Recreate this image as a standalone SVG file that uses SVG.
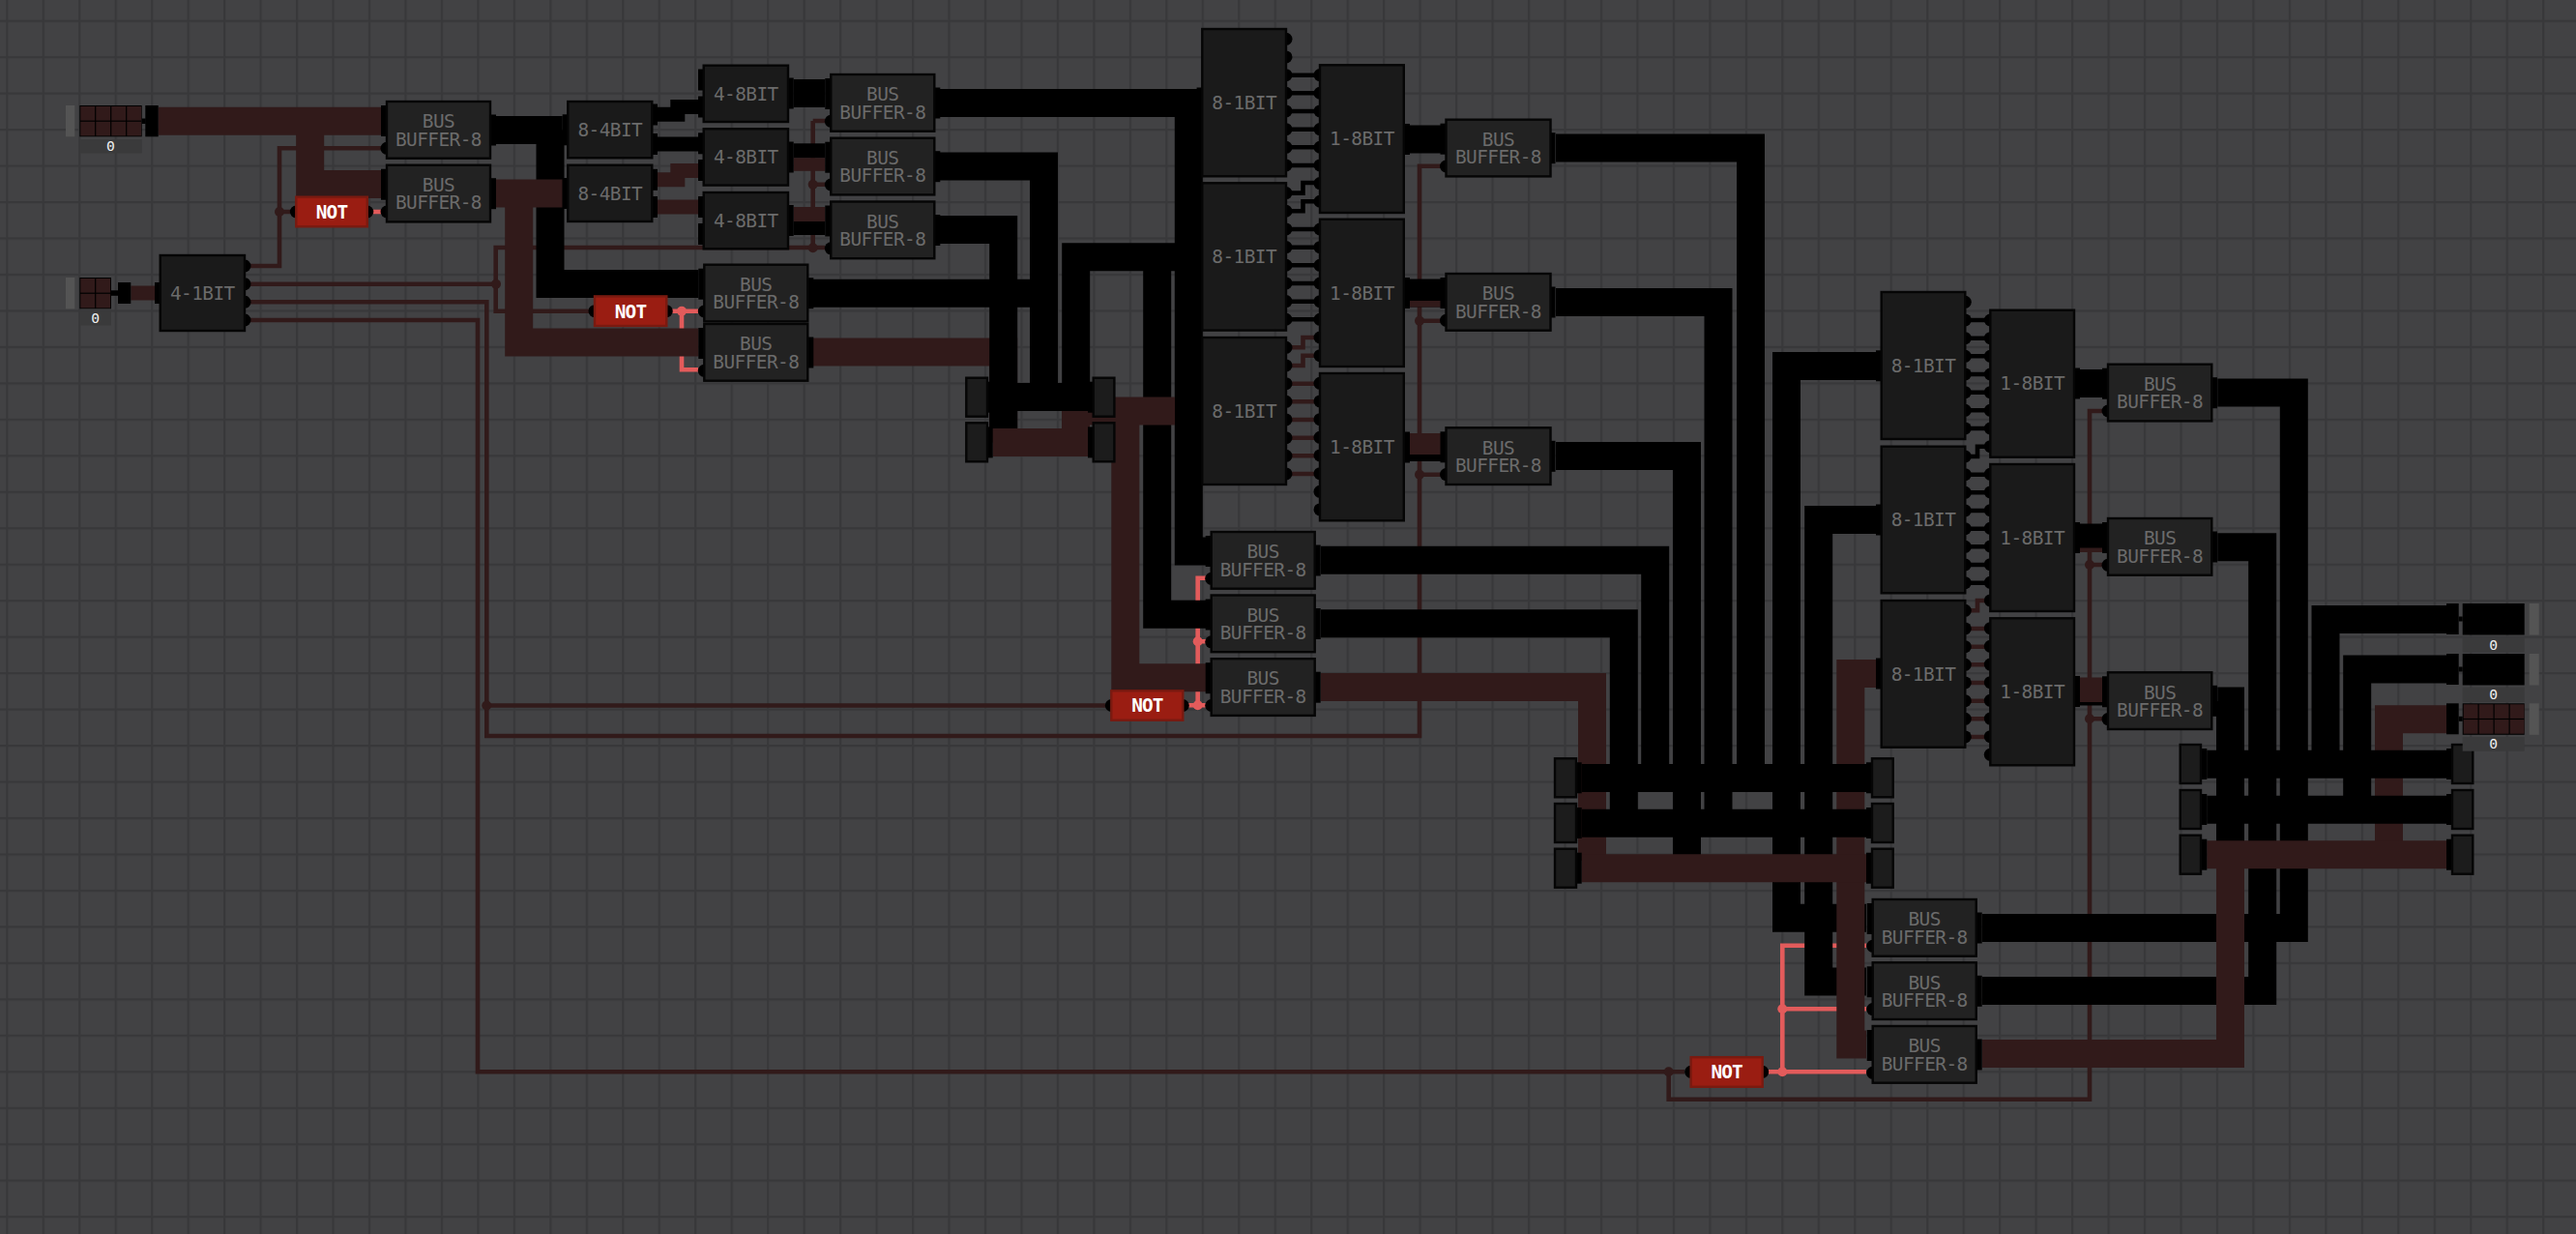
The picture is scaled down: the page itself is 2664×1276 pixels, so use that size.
<svg xmlns="http://www.w3.org/2000/svg" width="2664" height="1276" viewBox="0 0 2664 1276">
<style>
.bk,.rd,.th,.hi,.bk4,.rd4{fill:none;stroke-linejoin:miter;stroke-linecap:butt}
.bk{stroke:#000;stroke-width:29}
.rd{stroke:#311a1a;stroke-width:29}
.bk4{stroke:#000;stroke-width:15}
.rd4{stroke:#311a1a;stroke-width:15}
.th{stroke:#311a1a;stroke-width:4.6}
.hi{stroke:#e25b5b;stroke-width:4.6}
.tb{stroke:#000;stroke-width:4.6;fill:none}
.j{fill:#311a1a}
.jh{fill:#e25b5b}
.p{fill:#000}
.chip{fill:#1a1a1a;stroke:#050505;stroke-width:2.4}
.buf{fill:#222;stroke:#050505;stroke-width:2.4}
.rel{fill:#1c1c1c;stroke:#050505;stroke-width:2.4}
.not{fill:#9a1d12;stroke:#7a1a10;stroke-width:2.4}
.lbl{font-family:"DejaVu Sans Mono","Liberation Mono",monospace;font-size:19.4px;letter-spacing:-.55px;fill:#6b6b6b;text-anchor:middle}
.nt{font-family:"DejaVu Sans Mono","Liberation Mono",monospace;font-size:19.4px;letter-spacing:-.9px;font-weight:bold;fill:#fff;text-anchor:middle}
.val{font-family:"DejaVu Sans Mono","Liberation Mono",monospace;font-size:14.6px;fill:#eee;text-anchor:middle}
.bar{fill:#545454}
.vb{fill:#3a3a3b}
.cell{fill:#311a1a}
</style>
<defs>
<pattern id="grid" patternUnits="userSpaceOnUse" x="6.2" y="20.6" width="37.47" height="37.47">
<rect width="37.47" height="37.47" fill="#424244"/>
<rect x="0" y="0" width="2.3" height="37.47" fill="#38383a"/>
<rect x="0" y="0" width="37.47" height="2.3" fill="#38383a"/>
</pattern>
<g id="bbp">
<rect class="p" x="-6" y="4" width="6" height="32"/>
<circle class="p" cx="0" cy="48.3" r="6.5"/>
<rect class="p" x="107" y="13.5" width="6" height="32"/>
</g>
<g id="p8">
<circle class="p" cx="0" cy="0" r="6.5"/>
<circle class="p" cx="0" cy="18.67" r="6.5"/>
<circle class="p" cx="0" cy="37.33" r="6.5"/>
<circle class="p" cx="0" cy="56" r="6.5"/>
<circle class="p" cx="0" cy="74.67" r="6.5"/>
<circle class="p" cx="0" cy="93.33" r="6.5"/>
<circle class="p" cx="0" cy="112" r="6.5"/>
<circle class="p" cx="0" cy="130.67" r="6.5"/>
</g>
<g id="c4">
<rect class="cell" x="1" y="1" width="14.8" height="14.6"/>
<rect class="cell" x="17" y="1" width="14.8" height="14.6"/>
<rect class="cell" x="1" y="16.8" width="14.8" height="14.6"/>
<rect class="cell" x="17" y="16.8" width="14.8" height="14.6"/>
</g>
</defs>
<rect id="background" width="2664" height="1276" fill="url(#grid)"/>
<g id="connectors">
<g id="control-wires">
<path class="th" d="M253 275H289V153.3H395M289 219H300"/>
<path class="th" d="M253 293.7H513M609 321.7H512.7V256H853M840.7 125H853M840.7 125V256.3M840.7 190.7H853"/>
<path class="th" d="M253 312.3H503.3V761H1468V171.7H1490M503.3 729.5H1143M1468 331.7H1490M1468 490.7H1490"/>
<path class="th" d="M253 331H494V1108.3H1742M1725.7 1108.3V1136.7H2161V425H2174M2161 584H2174M2161 743.3H2174"/>
<circle class="j" cx="289" cy="219" r="5"/><circle class="j" cx="513" cy="293.7" r="5"/><circle class="j" cx="840.7" cy="190.7" r="5"/><circle class="j" cx="840.7" cy="256.3" r="5"/><circle class="j" cx="503.3" cy="729.5" r="5"/><circle class="j" cx="1468" cy="331.7" r="5"/><circle class="j" cx="1468" cy="490.7" r="5"/><circle class="j" cx="1725.7" cy="1108.3" r="5"/><circle class="j" cx="2161" cy="584" r="5"/><circle class="j" cx="2161" cy="743.3" r="5"/>
<path class="hi" d="M385 219H395M695 321.7H722M705 321.7V382.3H722M1229 729.3H1247M1238.7 729.3V597.7H1247M1238.7 663.3H1247M1829 1108.3H1930M1843.3 1108.3V977.7H1930M1843.3 1043.3H1930"/>
<circle class="jh" cx="705" cy="321.7" r="5"/><circle class="jh" cx="1238.7" cy="663.3" r="5"/><circle class="jh" cx="1238.7" cy="729.3" r="5"/><circle class="jh" cx="1843.3" cy="1043.3" r="5"/><circle class="jh" cx="1843.3" cy="1108.3" r="5"/>
</g>
<g id="chip-links">
<path class="tb" d="M1330 77.7H1365M1330 96.3H1365M1330 115H1365M1330 133.7H1365M1330 152.3H1365M1330 171H1365M1330 199.6H1347.5V189H1365M1330 218.3H1347.5V208.3H1365M1330 237H1365M1330 255.7H1365M1330 274.3H1365M1330 293H1365M1330 311.7H1365M1330 330.3H1365"/>
<path class="th" d="M1330 359.3H1347.5V349H1365M1330 378H1347.5V367.7H1365M1330 396.7H1365M1330 415.3H1365M1330 434H1365M1330 452.7H1365M1330 471.3H1365M1330 490H1365"/>
<path class="tb" d="M2032.3 331H2058.3M2032.3 349.7H2058.3M2032.3 368.3H2058.3M2032.3 387H2058.3M2032.3 405.7H2058.3M2032.3 424.3H2058.3M2032.3 443H2058.3M2032.3 472H2045V461.7H2058.3M2032.3 490.7H2058.3M2032.3 509.3H2058.3M2032.3 528H2058.3M2032.3 546.7H2058.3M2032.3 565.3H2058.3M2032.3 584H2058.3M2032.3 602.7H2058.3"/>
<path class="th" d="M2032.3 631.3H2045V621H2058.3M2032.3 650H2058.3M2032.3 668.7H2058.3M2032.3 687.3H2058.3M2032.3 706H2058.3M2032.3 724.7H2058.3M2032.3 743.3H2058.3M2032.3 762H2058.3"/>
</g>
<g id="bus-under">
<path class="rd" d="M841 364H1037.7V457.5"/>
</g>
<g id="bus-black">
<path class="bk" d="M513 134.5H581.7M569 134.5V293.5H722.3"/>
<path class="bk4" d="M680 118.3H700.8V110.5H722M680 149H722"/>
<path class="bk" d="M820.7 96.5H853.3"/>
<path class="bk" d="M972 106.5H1243M1229.3 106.5V570H1247"/>
<path class="bk" d="M972 172H1079.5V396M841 303.3H1065"/>
<path class="bk" d="M972 237.6H1037.7V443"/>
<path class="bk" d="M1243 265.8H1112.7V396M1196.7 265.8V635.3H1247"/>
<path class="bk" d="M1366 579.3H1711.7V800M1366 644.8H1679.3V850"/>
<path class="bk" d="M1609 153H1810.5V800M1609 312.4H1777V850M1609 471.5H1744.5V890"/>
<path class="bk" d="M1940 378.5H1847.5V949.3H1930M1940 537.5H1880.7V1015H1930"/>
<path class="bk" d="M2293.3 406H2372.3V959.5H2050M2293.3 565.7H2339.7V1024.5H2050M2293.3 725H2306.5V884"/>
<path class="bk" d="M2530 640.5H2405V790M2530 692H2437.7V837"/>
<path class="bk" d="M1458 144H1490M1458 303H1490M2151 396.5H2174M2151 556H2174"/>
</g>
<g id="bus-red">
<path class="rd" d="M163.7 125.3H395M320.7 125.3V190.5H395"/>
<path class="rd4" d="M135.3 303H160"/>
<path class="rd" d="M513 200H581.7M536.7 200V354H722.3"/>
<path class="rd4" d="M680 185.8H700.8V176.5H722M680 214H722"/>
<path class="rd" d="M1112.5 457.5V425H1215M1163.8 425V700.8H1247"/>
<path class="rd" d="M1366 710.5H1646.5V890"/>
<path class="rd" d="M1940 696.5H1913.8V1080H1930"/>
<path class="rd" d="M2530 743.7H2470.5V884"/>
</g>
<g id="bus-cross">
<path class="bk" d="M1026.7 410.5H1125M1635.7 804.5H1930M1635.7 851.2H1930M2282.3 790.3H2530M2282.3 837.2H2530"/>
<path class="rd" d="M1026.7 457.5H1125M1635.7 897.8H1930M2282.3 883.8H2530M2050 1089.5H2306.5V884"/>
</g>
<g id="bus-strips">
<rect class="p" x="820.7" y="148.3" width="32.6" height="15.2"/><rect class="cell" x="820.7" y="163.3" width="32.6" height="13.5"/>
<rect class="cell" x="820.7" y="214" width="32.6" height="15"/><rect class="p" x="820.7" y="229" width="32.6" height="14"/>
<rect class="cell" x="1458" y="311" width="32" height="6.5"/>
<rect class="cell" x="1458" y="448" width="32" height="22"/><rect class="p" x="1458" y="470" width="32" height="7"/>
<rect class="cell" x="2151" y="566.5" width="23" height="4.5"/>
<rect class="cell" x="2151" y="700.5" width="23" height="25.5"/><rect class="p" x="2151" y="726" width="23" height="3.5"/>
</g>
</g>
<g id="input-a">
<rect class="bar" x="68" y="109" width="9.3" height="32.3"/>
<rect class="p" x="82.3" y="109" width="64.4" height="32.3"/>
<use href="#c4" x="82.3" y="109"/><use href="#c4" x="114.3" y="109"/>
<rect class="p" x="146.7" y="122.5" width="4" height="5.5"/>
<rect class="p" x="150.3" y="109" width="13.4" height="32.3"/>
<rect class="vb" x="82.3" y="144" width="64.4" height="14.5"/>
<text class="val" x="114.5" y="156.2">0</text>
</g>
<g id="input-b">
<rect class="bar" x="68" y="287" width="9.3" height="32.3"/>
<rect class="p" x="82.3" y="287" width="32.7" height="32.3"/>
<use href="#c4" x="82.3" y="287"/>
<rect class="p" x="115" y="300.3" width="7" height="5.5"/>
<rect class="p" x="122" y="292" width="13.3" height="22"/>
<rect class="vb" x="82.3" y="322" width="32.7" height="14.5"/>
<text class="val" x="98.6" y="334.2">0</text>
</g>
<g id="decoder-4-1">
<rect class="p" x="160" y="292" width="5.7" height="22"/>
<circle class="p" cx="253" cy="275" r="6.5"/><circle class="p" cx="253" cy="293.7" r="6.5"/><circle class="p" cx="253" cy="312.3" r="6.5"/><circle class="p" cx="253" cy="331" r="6.5"/>
<rect class="chip" x="165.7" y="264" width="87.3" height="78"/>
<text class="lbl" x="209.3" y="310">4-1BIT</text>
</g>
<g id="buffer-1"><use href="#bbp" x="400" y="105"/><rect class="buf" x="400" y="105" width="107" height="58.7"/><text class="lbl" x="453.5" y="132.2" >BUS</text><text class="lbl" x="453.5" y="150.6">BUFFER-8</text></g>
<g id="buffer-2"><use href="#bbp" x="400" y="170.7"/><rect class="buf" x="400" y="170.7" width="107" height="58.7"/><text class="lbl" x="453.5" y="197.9">BUS</text><text class="lbl" x="453.5" y="216.3">BUFFER-8</text></g>
<g id="not-1"><circle class="p" cx="306.3" cy="219" r="6.5"/><circle class="p" cx="379.8" cy="219" r="6.5"/><rect class="not" x="306.3" y="203.7" width="73.5" height="30.6"/><text class="nt" x="343" y="225.9">NOT</text></g>
<g id="split-1"><rect class="p" x="581.7" y="118.3" width="5.7" height="32"/><rect class="p" x="674.3" y="107.5" width="5.7" height="22"/><rect class="p" x="674.3" y="138" width="5.7" height="22"/><rect class="chip" x="587.3" y="105" width="87" height="58.3"/><text class="lbl" x="630.8" y="140.8">8-4BIT</text></g>
<g id="split-2"><rect class="p" x="581.7" y="184" width="5.7" height="32"/><rect class="p" x="674.3" y="174.8" width="5.7" height="22"/><rect class="p" x="674.3" y="203" width="5.7" height="22"/><rect class="chip" x="587.3" y="170.7" width="87" height="58.3"/><text class="lbl" x="630.8" y="206.5">8-4BIT</text></g>
<g id="merge-1"><rect class="p" x="722" y="71.5" width="5.7" height="22"/><rect class="p" x="722" y="99.5" width="5.7" height="22"/><rect class="p" x="815" y="80.5" width="5.7" height="32"/><rect class="chip" x="727.7" y="67.7" width="87.3" height="58.3"/><text class="lbl" x="771.3" y="103.5">4-8BIT</text></g>
<g id="merge-2"><rect class="p" x="722" y="137.3" width="5.7" height="22"/><rect class="p" x="722" y="165" width="5.7" height="22"/><rect class="p" x="815" y="146.5" width="5.7" height="32"/><rect class="chip" x="727.7" y="133.3" width="87.3" height="58.3"/><text class="lbl" x="771.3" y="169.2">4-8BIT</text></g>
<g id="merge-3"><rect class="p" x="722" y="203" width="5.7" height="22"/><rect class="p" x="722" y="231" width="5.7" height="22"/><rect class="p" x="815" y="212" width="5.7" height="32"/><rect class="chip" x="727.7" y="199" width="87.3" height="58.3"/><text class="lbl" x="771.3" y="234.8">4-8BIT</text></g>
<g id="buffer-3"><use href="#bbp" x="859.3" y="77"/><rect class="buf" x="859.3" y="77" width="107" height="58.7"/><text class="lbl" x="912.8" y="104.2">BUS</text><text class="lbl" x="912.8" y="122.6">BUFFER-8</text></g>
<g id="buffer-4"><use href="#bbp" x="859.3" y="142.7"/><rect class="buf" x="859.3" y="142.7" width="107" height="58.7"/><text class="lbl" x="912.8" y="169.9">BUS</text><text class="lbl" x="912.8" y="188.3">BUFFER-8</text></g>
<g id="buffer-5"><use href="#bbp" x="859.3" y="208.5"/><rect class="buf" x="859.3" y="208.5" width="107" height="58.7"/><text class="lbl" x="912.8" y="235.7">BUS</text><text class="lbl" x="912.8" y="254.1">BUFFER-8</text></g>
<g id="buffer-6"><use href="#bbp" x="728.3" y="273.7"/><rect class="buf" x="728.3" y="273.7" width="107" height="58.7"/><text class="lbl" x="781.8" y="300.9">BUS</text><text class="lbl" x="781.8" y="319.3">BUFFER-8</text></g>
<g id="buffer-7"><use href="#bbp" x="728.3" y="335"/><rect class="buf" x="728.3" y="335" width="107" height="58.7"/><text class="lbl" x="781.8" y="362.2">BUS</text><text class="lbl" x="781.8" y="380.6">BUFFER-8</text></g>
<g id="not-2"><circle class="p" cx="615" cy="321.7" r="6.5"/><circle class="p" cx="689.3" cy="321.7" r="6.5"/><rect class="not" x="615" y="306.4" width="74.3" height="30.6"/><text class="nt" x="652" y="328.6">NOT</text></g>
<g id="relay-1"><rect class="p" x="1021" y="394.7" width="5.7" height="32"/><rect class="rel" x="999.3" y="390.7" width="21.7" height="40"/></g>
<g id="relay-2"><rect class="p" x="1021" y="441.4" width="5.7" height="32"/><rect class="rel" x="999.3" y="437.3" width="21.7" height="40"/></g>
<g id="relay-3"><rect class="p" x="1125" y="394.7" width="5.7" height="32"/><rect class="rel" x="1130.7" y="390.7" width="21.7" height="40"/></g>
<g id="relay-4"><rect class="p" x="1125" y="441.4" width="5.7" height="32"/><rect class="rel" x="1130.7" y="437.3" width="21.7" height="40"/></g>
<g id="mux-a1"><rect class="p" x="1237.6" y="90.5" width="5.7" height="32"/><use href="#p8" x="1330" y="40.3"/><rect class="chip" x="1243.3" y="30" width="86.7" height="152.3"/><text class="lbl" x="1286.7" y="112.7">8-1BIT</text></g>
<g id="mux-a2"><rect class="p" x="1237.6" y="249.8" width="5.7" height="32"/><use href="#p8" x="1330" y="199.6"/><rect class="chip" x="1243.3" y="189.3" width="86.7" height="152.3"/><text class="lbl" x="1286.7" y="272.2">8-1BIT</text></g>
<g id="mux-a3"><rect class="p" x="1237.6" y="409" width="5.7" height="32"/><use href="#p8" x="1330" y="359.3"/><rect class="chip" x="1243.3" y="349" width="86.7" height="152"/><text class="lbl" x="1286.7" y="431.7">8-1BIT</text></g>
<g id="dmx-a1"><use href="#p8" x="1365" y="77.6"/><rect class="p" x="1451.8" y="128" width="6.2" height="32"/><rect class="chip" x="1365" y="67.3" width="86.8" height="152.7"/><text class="lbl" x="1408.4" y="150.4">1-8BIT</text></g>
<g id="dmx-a2"><use href="#p8" x="1365" y="237"/><rect class="p" x="1451.8" y="287" width="6.2" height="32"/><rect class="chip" x="1365" y="226.7" width="86.8" height="152.3"/><text class="lbl" x="1408.4" y="309.6">1-8BIT</text></g>
<g id="dmx-a3"><use href="#p8" x="1365" y="396.3"/><rect class="p" x="1451.8" y="446.5" width="6.2" height="32"/><rect class="chip" x="1365" y="386" width="86.8" height="152.3"/><text class="lbl" x="1408.4" y="468.9">1-8BIT</text></g>
<g id="buffer-8"><use href="#bbp" x="1252.7" y="550"/><rect class="buf" x="1252.7" y="550" width="107" height="58.7"/><text class="lbl" x="1306.2" y="577.2">BUS</text><text class="lbl" x="1306.2" y="595.6">BUFFER-8</text></g>
<g id="buffer-9"><use href="#bbp" x="1252.7" y="615.5"/><rect class="buf" x="1252.7" y="615.5" width="107" height="58.7"/><text class="lbl" x="1306.2" y="642.7">BUS</text><text class="lbl" x="1306.2" y="661.1">BUFFER-8</text></g>
<g id="buffer-10"><use href="#bbp" x="1252.7" y="681.2"/><rect class="buf" x="1252.7" y="681.2" width="107" height="58.7"/><text class="lbl" x="1306.2" y="708.4">BUS</text><text class="lbl" x="1306.2" y="726.8">BUFFER-8</text></g>
<g id="not-3"><circle class="p" cx="1149.3" cy="729.5" r="6.5"/><circle class="p" cx="1223.3" cy="729.5" r="6.5"/><rect class="not" x="1149.3" y="714.3" width="74" height="30.4"/><text class="nt" x="1186.3" y="736.4">NOT</text></g>
<g id="buffer-11"><use href="#bbp" x="1495.5" y="123.7"/><rect class="buf" x="1495.5" y="123.7" width="108" height="58.7"/><text class="lbl" x="1549.5" y="150.9">BUS</text><text class="lbl" x="1549.5" y="169.3">BUFFER-8</text></g>
<g id="buffer-12"><use href="#bbp" x="1495.5" y="283"/><rect class="buf" x="1495.5" y="283" width="108" height="58.7"/><text class="lbl" x="1549.5" y="310.2">BUS</text><text class="lbl" x="1549.5" y="328.6">BUFFER-8</text></g>
<g id="buffer-13"><use href="#bbp" x="1495.5" y="442.3"/><rect class="buf" x="1495.5" y="442.3" width="108" height="58.7"/><text class="lbl" x="1549.5" y="469.5">BUS</text><text class="lbl" x="1549.5" y="487.9">BUFFER-8</text></g>
<g id="relay-5"><rect class="p" x="1630" y="788.3" width="5.7" height="32"/><rect class="rel" x="1608" y="784.3" width="22" height="40"/></g>
<g id="relay-6"><rect class="p" x="1630" y="835" width="5.7" height="32"/><rect class="rel" x="1608" y="831" width="22" height="40"/></g>
<g id="relay-7"><rect class="p" x="1630" y="881.7" width="5.7" height="32"/><rect class="rel" x="1608" y="877.7" width="22" height="40"/></g>
<g id="relay-8"><rect class="p" x="1930" y="788.3" width="6" height="32"/><rect class="rel" x="1936" y="784.3" width="21.7" height="40"/></g>
<g id="relay-9"><rect class="p" x="1930" y="835" width="6" height="32"/><rect class="rel" x="1936" y="831" width="21.7" height="40"/></g>
<g id="relay-10"><rect class="p" x="1930" y="881.7" width="6" height="32"/><rect class="rel" x="1936" y="877.7" width="21.7" height="40"/></g>
<g id="buffer-17"><use href="#bbp" x="1936.7" y="930"/><rect class="buf" x="1936.7" y="930" width="107" height="58.7"/><text class="lbl" x="1990.2" y="957.2">BUS</text><text class="lbl" x="1990.2" y="975.6">BUFFER-8</text></g>
<g id="buffer-18"><use href="#bbp" x="1936.7" y="995.3"/><rect class="buf" x="1936.7" y="995.3" width="107" height="58.7"/><text class="lbl" x="1990.2" y="1022.5">BUS</text><text class="lbl" x="1990.2" y="1040.9">BUFFER-8</text></g>
<g id="buffer-19"><use href="#bbp" x="1936.7" y="1061"/><rect class="buf" x="1936.7" y="1061" width="107" height="58.7"/><text class="lbl" x="1990.2" y="1088.2">BUS</text><text class="lbl" x="1990.2" y="1106.6">BUFFER-8</text></g>
<g id="not-4"><circle class="p" cx="1748.7" cy="1108.3" r="6.5"/><circle class="p" cx="1822.7" cy="1108.3" r="6.5"/><rect class="not" x="1748.7" y="1093.2" width="74" height="30.6"/><text class="nt" x="1785.7" y="1115.2">NOT</text></g>
<g id="mux-b1"><rect class="p" x="1940" y="362.3" width="5.7" height="32"/><use href="#p8" x="2032.3" y="312.3"/><rect class="chip" x="1945.7" y="302" width="86.6" height="152"/><text class="lbl" x="1989" y="384.7">8-1BIT</text></g>
<g id="mux-b2"><rect class="p" x="1940" y="521.5" width="5.7" height="32"/><use href="#p8" x="2032.3" y="472"/><rect class="chip" x="1945.7" y="461.7" width="86.6" height="151.6"/><text class="lbl" x="1989" y="544.2">8-1BIT</text></g>
<g id="mux-b3"><rect class="p" x="1940" y="680.5" width="5.7" height="32"/><use href="#p8" x="2032.3" y="631.3"/><rect class="chip" x="1945.7" y="621" width="86.6" height="151.7"/><text class="lbl" x="1989" y="703.5">8-1BIT</text></g>
<g id="dmx-b1"><use href="#p8" x="2058.3" y="331"/><rect class="p" x="2145" y="380.5" width="6" height="32"/><rect class="chip" x="2058.3" y="320.7" width="86.7" height="152"/><text class="lbl" x="2101.7" y="403.4">1-8BIT</text></g>
<g id="dmx-b2"><use href="#p8" x="2058.3" y="490.3"/><rect class="p" x="2145" y="540" width="6" height="32"/><rect class="chip" x="2058.3" y="480" width="86.7" height="152"/><text class="lbl" x="2101.7" y="562.7">1-8BIT</text></g>
<g id="dmx-b3"><use href="#p8" x="2058.3" y="649.7"/><rect class="p" x="2145" y="699" width="6" height="32"/><rect class="chip" x="2058.3" y="639.3" width="86.7" height="152"/><text class="lbl" x="2101.7" y="722">1-8BIT</text></g>
<g id="buffer-14"><use href="#bbp" x="2180" y="376.7"/><rect class="buf" x="2180" y="376.7" width="107.3" height="58.7"/><text class="lbl" x="2233.6" y="403.9">BUS</text><text class="lbl" x="2233.6" y="422.3">BUFFER-8</text></g>
<g id="buffer-15"><use href="#bbp" x="2180" y="536"/><rect class="buf" x="2180" y="536" width="107.3" height="58.7"/><text class="lbl" x="2233.6" y="563.2">BUS</text><text class="lbl" x="2233.6" y="581.6">BUFFER-8</text></g>
<g id="buffer-16"><use href="#bbp" x="2180" y="695.3"/><rect class="buf" x="2180" y="695.3" width="107.3" height="58.7"/><text class="lbl" x="2233.6" y="722.5">BUS</text><text class="lbl" x="2233.6" y="740.9">BUFFER-8</text></g>
<g id="relay-11"><rect class="p" x="2276" y="774" width="6.3" height="32"/><rect class="rel" x="2254.7" y="770" width="21.3" height="40"/></g>
<g id="relay-12"><rect class="p" x="2276" y="821" width="6.3" height="32"/><rect class="rel" x="2254.7" y="817" width="21.3" height="40"/></g>
<g id="relay-13"><rect class="p" x="2276" y="867.7" width="6.3" height="32"/><rect class="rel" x="2254.7" y="863.7" width="21.3" height="40"/></g>
<g id="relay-14"><rect class="p" x="2530" y="774" width="6" height="32"/><rect class="rel" x="2536" y="770" width="21.3" height="40"/></g>
<g id="relay-15"><rect class="p" x="2530" y="821" width="6" height="32"/><rect class="rel" x="2536" y="817" width="21.3" height="40"/></g>
<g id="relay-16"><rect class="p" x="2530" y="867.7" width="6" height="32"/><rect class="rel" x="2536" y="863.7" width="21.3" height="40"/></g>
<g id="output-1">
<rect class="p" x="2530" y="624" width="12.7" height="32"/><rect class="p" x="2542.7" y="637.5" width="4" height="5"/>
<rect class="p" x="2546.7" y="624" width="64" height="32.5"/>
<rect class="bar" x="2615.7" y="624" width="10" height="32.5"/>
<rect class="vb" x="2546.7" y="659.3" width="64" height="15.4"/>
<text class="val" x="2578.7" y="671.8">0</text>
</g>
<g id="output-2">
<rect class="p" x="2530" y="676" width="12.7" height="32"/><rect class="p" x="2542.7" y="689.5" width="4" height="5"/>
<rect class="p" x="2546.7" y="676" width="64" height="32.5"/>
<rect class="bar" x="2615.7" y="676" width="10" height="32.5"/>
<rect class="vb" x="2546.7" y="710.7" width="64" height="15.4"/>
<text class="val" x="2578.7" y="723.2">0</text>
</g>
<g id="output-3">
<rect class="p" x="2530" y="727.3" width="12.7" height="32"/><rect class="p" x="2542.7" y="740.8" width="4" height="5"/>
<rect class="p" x="2546.7" y="727.3" width="64" height="32.5"/>
<use href="#c4" x="2546.7" y="727.3"/><use href="#c4" x="2578.7" y="727.3"/>
<rect class="bar" x="2615.7" y="727.3" width="10" height="32.5"/>
<rect class="vb" x="2546.7" y="762" width="64" height="14.7"/>
<text class="val" x="2578.7" y="774.2">0</text>
</g>
</svg>
